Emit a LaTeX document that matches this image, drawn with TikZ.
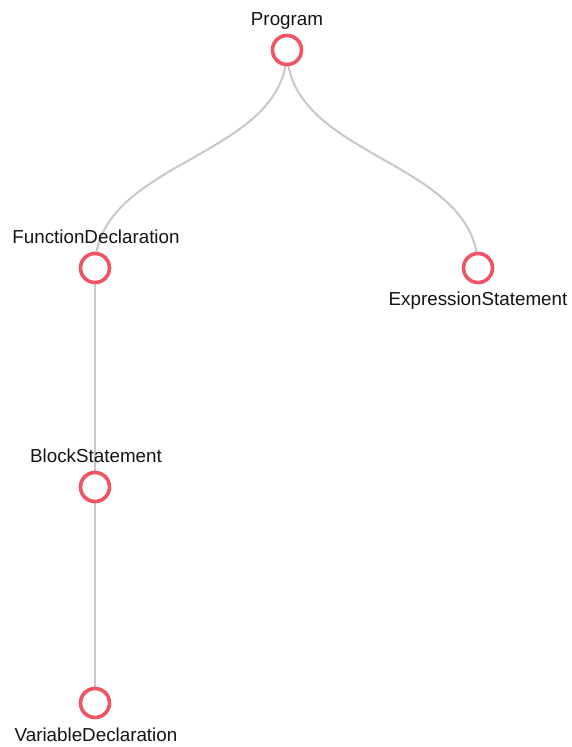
\documentclass[tikz,border=0pt]{standalone}
\usepackage{fontspec}
\setmainfont{Liberation Sans}
\usetikzlibrary{backgrounds}
\definecolor{nodered}{RGB}{240,84,98}
\definecolor{linkgray}{RGB}{200,200,200}
\tikzset{
  treenode/.style={circle, draw=nodered, line width=3.6pt, fill=white,
                   minimum size=29pt, inner sep=0pt},
  treelabel/.style={anchor=base, inner sep=0pt,
                    font=\fontsize{18.8}{18.8}\selectfont, text=black!92},
  treelink/.style={draw=linkgray, line width=2pt}
}
\begin{document}
\begin{tikzpicture}[x=1pt,y=-1pt]
  \useasboundingbox (0,0) rectangle (572,747);

  % tree nodes
  \node[treenode] (prog) at (287,50) {};
  \node[treenode] (func) at (95,268) {};
  \node[treenode] (expr) at (478,268) {};
  \node[treenode] (block) at (95,487) {};
  \node[treenode] (vars) at (95,703) {};

  % labels
  \node[treelabel] (progL)  at (287,25)    {Program};
  \node[treelabel] (funcL)  at (96,243.5)  {FunctionDeclaration};
  \node[treelabel] (exprL)  at (478,305.5) {ExpressionStatement};
  \node[treelabel] (blockL) at (96,462.5)  {BlockStatement};
  \node[treelabel] (varsL)  at (96,741)    {VariableDeclaration};

  % links behind the circles
  \begin{pgfonlayer}{background}
    \fill[white] (0,0) rectangle (572,747);
    \draw[treelink] (prog.center) .. controls +(0,109) and +(0,-109) .. (func.center);
    \draw[treelink] (prog.center) .. controls +(0,109) and +(0,-109) .. (expr.center);
    \draw[treelink] (func.center) -- (block.center);
    \draw[treelink] (block.center) -- (vars.center);
  \end{pgfonlayer}
\end{tikzpicture}
\end{document}
